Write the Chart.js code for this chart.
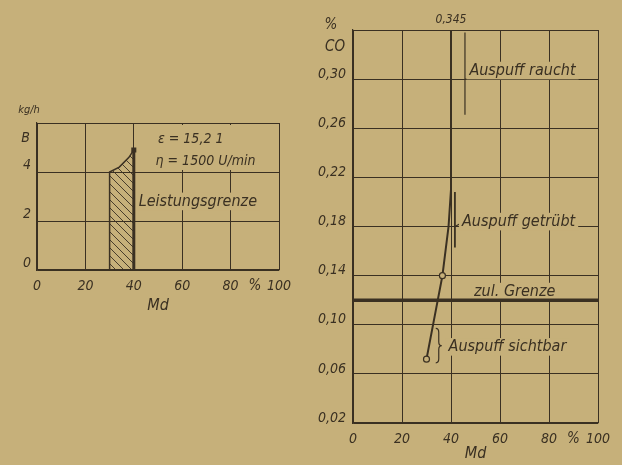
<!DOCTYPE html>
<html>
<head>
<meta charset="utf-8">
<script src="https://cdn.jsdelivr.net/npm/chart.js@4.4.1/dist/chart.umd.min.js"></script>
<style>
  html, body { margin: 0; padding: 0; width: 622px; height: 465px; overflow: hidden; background: #c6b07a; }
  #links { position: absolute; left: 0; top: 90px; }
  #rechts { position: absolute; left: 300px; top: 0; }
</style>
</head>
<body>
<canvas id="links" width="300" height="240"></canvas>
<canvas id="rechts" width="322" height="465"></canvas>
<script>
// linkes Diagramm: Brennstoffverbrauch B (kg/h) ueber Md (%)
const mdTicks = [0, 20, 40, 60, 80, 100];
const bTicks = [0, 2, 4, 6];
const bMd = [30, 30, 34, 38, 40];
const bWerte = [0, 4.0, 4.2, 4.6, 4.9];
const grenzeMd = [40, 40];
const grenzeB = [0, 4.9];

// rechtes Diagramm: CO-Gehalt (%) ueber Md (%)
const coTicks = [0.02, 0.06, 0.10, 0.14, 0.18, 0.22, 0.26, 0.30, 0.34];
const coMd = [30, 36.5, 39, 40, 40];
const coWerte = [0.072, 0.14, 0.18, 0.21, 0.345];
const zulMd = [0, 100];
const zulCo = [0.12, 0.12];

const FONT = "'DejaVu Sans Condensed', 'Liberation Sans Narrow', sans-serif";
const INK = "#3a3022";
const BG = "#c6b07a";

const pts = (xs, ys) => xs.map((x, i) => ({ x: x, y: ys[i] }));

// Schraffur fuer die Flaeche unter der Verbrauchslinie
function schraffur() {
  const c = document.createElement("canvas");
  c.width = 8;
  c.height = 8;
  const g = c.getContext("2d");
  g.strokeStyle = INK;
  g.lineWidth = 0.9;
  g.beginPath();
  g.moveTo(-1, -1); g.lineTo(9, 9);
  g.moveTo(-1, 7); g.lineTo(1, 9);
  g.moveTo(7, -1); g.lineTo(9, 1);
  g.stroke();
  return g.createPattern(c, "repeat");
}

function schrift(ctx, text, x, y, size, align, box) {
  ctx.save();
  ctx.font = "italic " + size + "px " + FONT;
  ctx.textAlign = align || "left";
  ctx.textBaseline = "middle";
  if (box) {
    const w = ctx.measureText(text).width;
    const x0 = align === "center" ? x - w / 2 : align === "right" ? x - w : x;
    ctx.fillStyle = BG;
    ctx.fillRect(x0 - 3, y - size * 0.55, w + 6, size * 1.1);
  }
  ctx.fillStyle = INK;
  ctx.fillText(text, x, y);
  ctx.restore();
}

function linie(ctx, x1, y1, x2, y2, w) {
  ctx.save();
  ctx.strokeStyle = INK;
  ctx.lineWidth = w || 1;
  ctx.beginPath();
  ctx.moveTo(x1, y1);
  ctx.lineTo(x2, y2);
  ctx.stroke();
  ctx.restore();
}

// geschweifte Klammer, Spitze nach rechts
function klammer(ctx, x, y1, y2) {
  const m = (y1 + y2) / 2;
  ctx.save();
  ctx.strokeStyle = INK;
  ctx.lineWidth = 1.2;
  ctx.beginPath();
  ctx.moveTo(x - 3, y1);
  ctx.quadraticCurveTo(x, y1, x, y1 + 4);
  ctx.lineTo(x, m - 4);
  ctx.quadraticCurveTo(x, m, x + 3, m);
  ctx.quadraticCurveTo(x, m, x, m + 4);
  ctx.lineTo(x, y2 - 4);
  ctx.quadraticCurveTo(x, y2, x - 3, y2);
  ctx.stroke();
  ctx.restore();
}

function achse(ticks, min, max, fmt, extra, tickExtra) {
  return Object.assign({
    type: "linear",
    min: min,
    max: max,
    afterBuildTicks: (s) => { s.ticks = ticks.map((v) => ({ value: v })); },
    grid: { color: INK, lineWidth: 1, drawTicks: false },
    border: { color: INK, width: 1.2 },
    ticks: Object.assign({
      color: INK,
      autoSkip: false,
      maxRotation: 0,
      font: { family: FONT, size: 14, style: "italic" },
      callback: fmt,
    }, tickExtra),
  }, extra);
}

const titelFont = { family: FONT, size: 16, style: "italic" };

const beschriftungLinks = {
  id: "beschriftungLinks",
  beforeDatasetsDraw(chart) {
    const { ctx, chartArea: a, scales: { x, y } } = chart;
    schrift(ctx, "kg/h", a.left - 8, a.top - 13, 11, "center");
    schrift(ctx, "B", a.left - 7, a.top + 15, 14, "right");
    schrift(ctx, "%", x.getPixelForValue(90), a.bottom + 16, 15, "center");
    ctx.fillStyle = BG;
    ctx.fillRect(x.getPixelForValue(41), a.top + 2, a.right - x.getPixelForValue(41) - 2, y.getPixelForValue(4) - a.top - 4);
    schrift(ctx, "\u03b5 = 15,2 1", x.getPixelForValue(50), y.getPixelForValue(5.35), 14, "left");
    schrift(ctx, "\u03b7 = 1500 U/min", x.getPixelForValue(49), y.getPixelForValue(4.45), 14, "left");
    schrift(ctx, "Leistungsgrenze", x.getPixelForValue(42), y.getPixelForValue(2.8), 16, "left", true);
  },
};

const beschriftungRechts = {
  id: "beschriftungRechts",
  beforeDatasetsDraw(chart) {
    const { ctx, chartArea: a, scales: { x, y } } = chart;
    const px = (v) => x.getPixelForValue(v);
    const py = (v) => y.getPixelForValue(v);
    schrift(ctx, "0,345", px(40), a.top - 10, 12, "center");
    schrift(ctx, "%", a.left - 22, a.top - 5, 15, "center");
    schrift(ctx, "CO", a.left - 8, py(0.326), 15, "right");
    schrift(ctx, "%", px(90), a.bottom + 16, 15, "center");

    // Auspuff raucht
    linie(ctx, px(45.7), py(0.338), px(45.7), py(0.271), 1.2);
    linie(ctx, px(45.7), py(0.30), px(47), py(0.30), 1.2);
    schrift(ctx, "Auspuff raucht", px(47.5), py(0.307), 16, "left", true);

    // Auspuff getruebt
    linie(ctx, px(41.6), py(0.208), px(41.6), py(0.163), 1.8);
    linie(ctx, px(41.6), py(0.18), px(43.5), py(0.182), 1.2);
    schrift(ctx, "Auspuff getr\u00fcbt", px(44.5), py(0.184), 16, "left", true);

    // zulaessige Grenze
    schrift(ctx, "zul. Grenze", px(66), py(0.127), 16, "center", true);

    // Auspuff sichtbar
    klammer(ctx, px(35), py(0.097), py(0.069));
    schrift(ctx, "Auspuff sichtbar", px(39), py(0.082), 16, "left", true);
  },
};

new Chart(document.getElementById("links"), {
  type: "scatter",
  data: {
    datasets: [
      {
        data: pts(bMd, bWerte),
        showLine: true,
        borderColor: INK,
        borderWidth: 1.5,
        fill: "origin",
        backgroundColor: schraffur(),
        pointRadius: [0, 0, 0, 0, 2.5],
        pointStyle: "rect",
        pointBackgroundColor: INK,
        pointBorderColor: INK,
      },
      {
        data: pts(grenzeMd, grenzeB),
        showLine: true,
        borderColor: INK,
        borderWidth: 3,
        pointRadius: 0,
        fill: false,
      },
    ],
  },
  options: {
    responsive: false,
    animation: false,
    layout: { padding: { top: 33, right: 21, bottom: 15, left: 0 } },
    plugins: { legend: { display: false }, tooltip: { enabled: false } },
    scales: {
      x: achse(mdTicks, 0, 100, (v) => v, {
        afterFit: (s) => { s.height = 45; },
        title: { display: true, text: "Md", color: INK, padding: 0, font: titelFont },
      }, { padding: 8 }),
      y: achse(bTicks, 0, 6, (v) => (v === 6 ? "" : v), {
        afterFit: (s) => { s.width = 37; },
      }, { padding: 6, labelOffset: -7 }),
    },
  },
  plugins: [beschriftungLinks],
});

new Chart(document.getElementById("rechts"), {
  type: "scatter",
  data: {
    datasets: [
      {
        data: pts(coMd, coWerte),
        showLine: true,
        borderColor: INK,
        borderWidth: 2,
        pointRadius: [3, 3, 0, 0, 0],
        pointBackgroundColor: BG,
        pointBorderColor: INK,
        pointBorderWidth: 1.2,
      },
      {
        data: pts(zulMd, zulCo),
        showLine: true,
        borderColor: INK,
        borderWidth: 3.5,
        pointRadius: 0,
      },
    ],
  },
  options: {
    responsive: false,
    animation: false,
    layout: { padding: { top: 30, right: 24, bottom: 2, left: 0 } },
    plugins: { legend: { display: false }, tooltip: { enabled: false } },
    scales: {
      x: achse(mdTicks, 0, 100, (v) => v, {
        afterFit: (s) => { s.height = 40; },
        title: { display: true, text: "Md", color: INK, padding: 0, font: titelFont },
      }, { padding: 8 }),
      y: achse(coTicks, 0.02, 0.34, (v) => (v > 0.33 ? "" : v.toFixed(2).replace(".", ",")), {
        afterFit: (s) => { s.width = 53; },
      }, { padding: 7, labelOffset: -5 }),
    },
  },
  plugins: [beschriftungRechts],
});
</script>
</body>
</html>
